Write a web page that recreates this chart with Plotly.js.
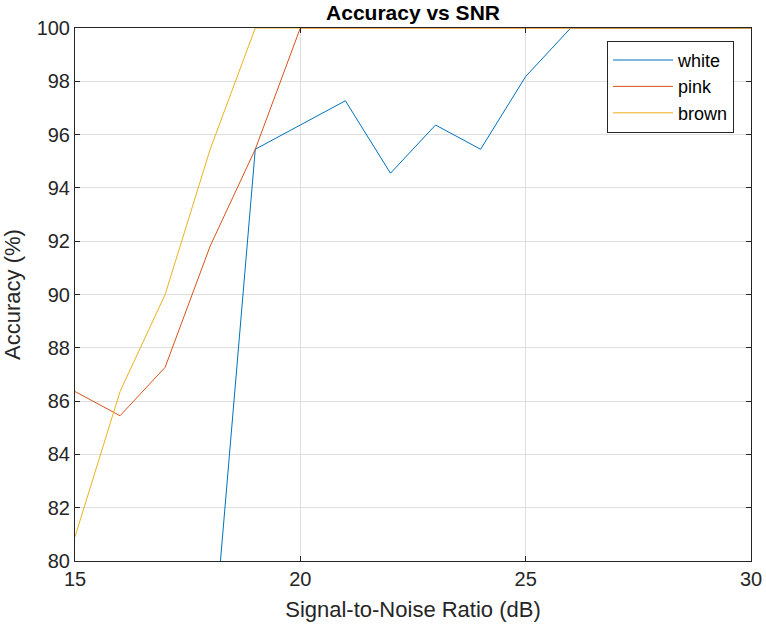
<!DOCTYPE html>
<html>
<head>
<meta charset="utf-8">
<script src="https://cdn.plot.ly/plotly-3.0.1.min.js"></script>
<style>html,body{margin:0;padding:0;background:#fff;}#chart{width:766px;height:630px;}</style>
</head>
<body>
<div id="chart"></div>
<script>
const snr = [15,16,17,18,19,20,21,22,23,24,25,26,27,28,29,30];
const whiteAcc = [62.73,66.36,70.00,75.45,95.45,96.36,97.27,94.55,96.36,95.45,98.18,100,100,100,100,100];
const pinkAcc  = [86.36,85.45,87.27,91.82,95.45,100,100,100,100,100,100,100,100,100,100,100];
const brownAcc = [80.91,86.36,90.00,95.45,100,100,100,100,100,100,100,100,100,100,100,100];
const seriesNames = ['white','pink','brown'];
const colors = ['#0072BD','#D95319','#EDB120'];
const ys = [whiteAcc, pinkAcc, brownAcc];

const traces = ys.map((y,i)=>({
  x: snr, y: y, type:'scatter', mode:'lines', name: seriesNames[i],
  line:{color:colors[i], width:1}
}));

const FONT = 'Liberation Sans, Arial, Helvetica, sans-serif';
const axisCommon = {
  showline:true, mirror:'ticks', linecolor:'#262626', linewidth:1,
  ticks:'inside', ticklen:5, tickcolor:'#262626',
  showgrid:true, gridcolor:'#dfdfdf', gridwidth:1, zeroline:false,
  tickfont:{family:FONT, size:20, color:'#262626'}
};

const layout = {
  width:766, height:630,
  margin:{l:75, r:15, t:28, b:69},
  paper_bgcolor:'#fff', plot_bgcolor:'#fff',
  title:{text:'<b>Accuracy vs SNR</b>', x:0.5, xref:'paper', xanchor:'center', y:0.98, yanchor:'middle',
         font:{family:FONT, size:21, color:'#000'}},
  xaxis:Object.assign({}, axisCommon, {range:[15,30], dtick:5, tick0:15,
         title:{text:'Signal-to-Noise Ratio (dB)', standoff:12, font:{family:FONT, size:22, color:'#262626'}}}),
  yaxis:Object.assign({}, axisCommon, {range:[80,100], dtick:2, tick0:80,
         title:{text:'Accuracy (%)', standoff:10, font:{family:FONT, size:22, color:'#262626'}}}),
  showlegend:true,
  legend:{x:0.787, y:0.976, xanchor:'left', yanchor:'top', bgcolor:'#fff',
          bordercolor:'#262626', borderwidth:1,
          font:{family:FONT, size:18, color:'#000'},
          tracegroupgap:0, itemwidth:60}
};

Plotly.newPlot('chart', traces, layout, {displayModeBar:false, staticPlot:true});
</script>
</body>
</html>
